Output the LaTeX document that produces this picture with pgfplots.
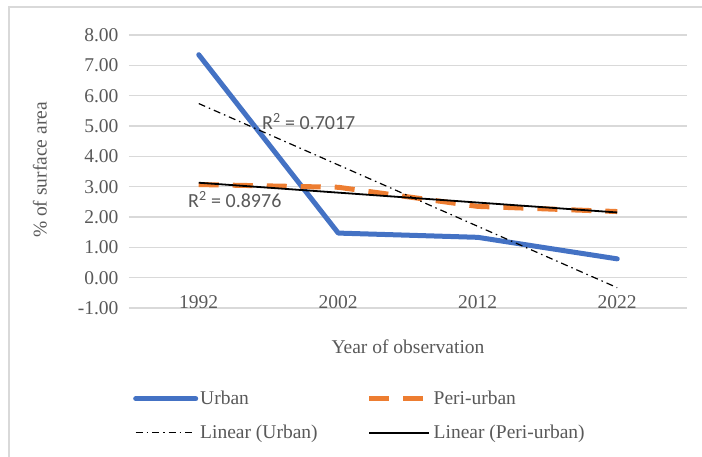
\documentclass[border=0pt]{standalone}
\usepackage{fontspec}
\setmainfont{Liberation Serif}
\newfontfamily\calibri{Carlito}
\usepackage{pgfplots}
\pgfplotsset{compat=1.18}
\definecolor{urb}{HTML}{4472C4}
\definecolor{peri}{HTML}{ED7D31}
\definecolor{txt}{HTML}{595959}
\definecolor{gridc}{HTML}{D9D9D9}
\begin{document}
\begin{tikzpicture}[font=\fontsize{19.5}{23}\selectfont]
\path[use as bounding box] (-129pt,-148pt) rectangle (573pt,308pt);
\draw[gridc, line width=1.2pt] (-120pt,-200pt) -- (-120pt,301pt) -- (700pt,301pt);
\begin{axis}[
 at={(0,0)}, anchor=south west,
 scale only axis, width=558pt, height=273pt,
 xmin=0.5, xmax=4.5, ymin=-1, ymax=8,
 axis line style={draw=none},
 major tick length=0pt,
 ymajorgrids, grid style={gridc, line width=1.3pt},
 ytick={-1,0,...,8},
 yticklabel style={/pgf/number format/fixed, /pgf/number format/fixed zerofill, /pgf/number format/precision=2, /pgf/number format/assume math mode=true, xshift=-7pt},
 xtick={1,2,3,4}, xticklabels={1992,2002,2012,2022},
 ticklabel style={text=txt, font=\fontsize{19.5}{23}\selectfont},
 xticklabel style={anchor=base, yshift=0pt},
 legend columns=2,
 legend style={at={(axis description cs:0,0)}, anchor=north west, xshift=4pt, yshift=-81pt,
   draw=none, fill=none, text=txt, inner sep=0pt, row sep=15pt,
   font=\fontsize{19.5}{23}\selectfont,
   cells={anchor=west},
   /tikz/every even column/.append style={column sep=47pt}},
 legend image code/.code={\draw[#1] (0pt,0pt) -- (60pt,0pt);},
]
\addplot[urb, line width=5pt, line join=round, line cap=round] coordinates {(1,7.35) (2,1.47) (3,1.33) (4,0.62)};
\addlegendentry{Urban}
\addplot[peri, line width=5pt, dash pattern=on 20pt off 14pt, line join=round] coordinates {(1,3.07) (2,2.98) (3,2.35) (4,2.18)};
\addlegendentry{Peri-urban}
\addplot[black, line width=1.2pt, dash pattern=on 7pt off 4pt on 1.5pt off 4pt] coordinates {(1,5.74) (4,-0.33)};
\addlegendentry{Linear (Urban)}
\addplot[black, line width=1.8pt] coordinates {(1,3.13) (4,2.15)};
\addlegendentry{Linear (Peri-urban)}
\node[anchor=base west, text=txt, font=\calibri\fontsize{20}{24}\selectfont, inner sep=0pt] at (axis cs:1.453,4.88) {R\textsuperscript{2} = 0.7017};
\node[anchor=base west, text=txt, font=\calibri\fontsize{20}{24}\selectfont, inner sep=0pt] at (axis cs:0.923,2.31) {R\textsuperscript{2} = 0.8976};
\end{axis}
\node[rotate=90, text=txt] at (-89pt,138pt) {\% of surface area};
\node[text=txt] at (279pt,-39pt) {Year of observation};
\end{tikzpicture}
\end{document}
